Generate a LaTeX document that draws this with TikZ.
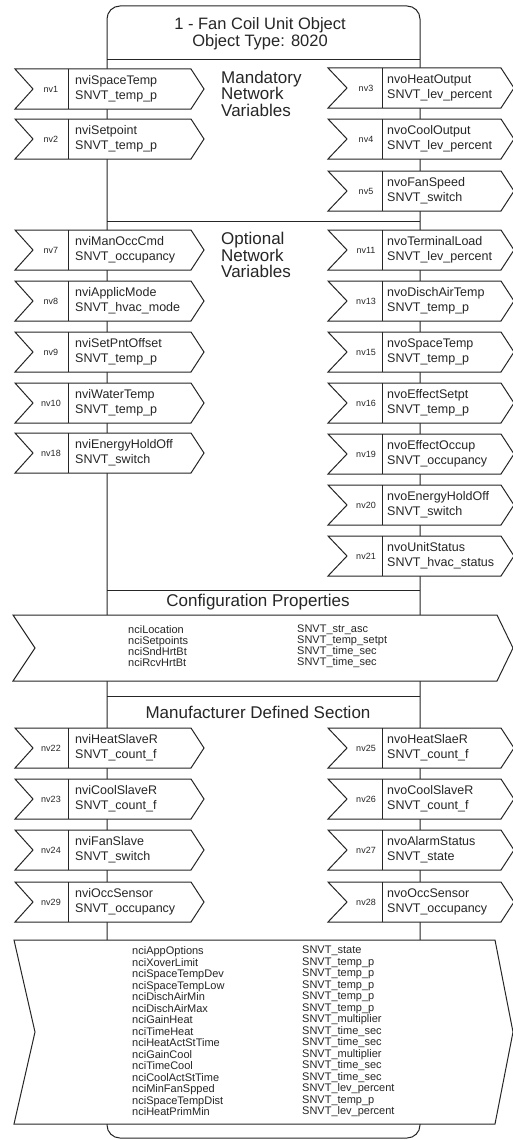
\documentclass[tikz,border=0pt]{standalone}
\usepackage{fontspec}
\setmainfont{Liberation Sans}
\newcommand\leftnv[5]{%
  \draw[arrowshape] (15,#2) -- (191,#2) -- (204,#2+20) -- (191,#2+40) -- (15,#2+40) -- (33,#2+20) -- cycle;
  \draw[divline] (68,#2) -- (68,#2+40);
  \node[nvlab] (#1-id) at (51,#2+20) {#3};
  \node[nvtext] (#1) at (75,#2+20) {#4\\#5};
}
\newcommand\rightnv[5]{%
  \draw[arrowshape] (328,#2) -- (501,#2) -- (514,#2+20) -- (501,#2+40) -- (328,#2+40) -- (347,#2+20) -- cycle;
  \draw[divline] (382,#2) -- (382,#2+40);
  \node[nvlab] (#1-id) at (366,#2+20) {#3};
  \node[nvtext] (#1) at (387,#2+20) {#4\\#5};
}
\begin{document}
\begin{tikzpicture}[x=1pt,y=-1pt,
  outline/.style={draw=black!85, line width=1pt},
  arrowshape/.style={outline, fill=white, line join=miter},
  divline/.style={draw=black!85, line width=1pt},
  nvlab/.style={font=\fontsize{9}{10}\selectfont, inner sep=0pt, text=black!85},
  nvtext/.style={font=\fontsize{12.5}{15}\selectfont, align=left, anchor=west, inner sep=0pt, text=black!85},
  title/.style={font=\fontsize{16.5}{17}\selectfont, align=center, inner sep=0pt, text=black!85},
  section/.style={font=\fontsize{17}{16.5}\selectfont, align=left, inner sep=0pt, text=black!85},
  cplist/.style={font=\fontsize{11}{11}\selectfont, align=left, anchor=west, inner sep=0pt, text=black!85},
  cplistb/.style={font=\fontsize{11}{11.5}\selectfont, align=left, anchor=west, inner sep=0pt, text=black!85}
]
\useasboundingbox (0,0) rectangle (513,1140);
\fill[white] (0,0) rectangle (513,1140);
% outer object box
\draw[outline, rounded corners=13pt] (263,1138) -- (107,1138) -- (107,6) -- (420,6) -- (420,1138) -- cycle;
\draw[outline] (107,60) -- (420,60);
\draw[outline] (107,221) -- (420,221);
\draw[outline] (107,590) -- (420,590);
\draw[outline] (107,696) -- (420,696);
\node[title] (head) at (260,33.5) {1 - Fan Coil Unit Object\\Object Type: 8020};
% section labels
\node[section, anchor=west] (mand) at (221,93.5) {Mandatory\\Network\\Variables};
\node[section, anchor=west] (opt) at (221,255) {Optional\\Network\\Variables};
\node[section] (cfg) at (258,602.5) {Configuration Properties};
\node[section] (mfr) at (258,712) {Manufacturer Defined Section};
% mandatory
\leftnv{nv1}{69}{nv1}{nviSpaceTemp}{SNVT\_temp\_p}
\leftnv{nv2}{119}{nv2}{nviSetpoint}{SNVT\_temp\_p}
\rightnv{nv3}{68}{nv3}{nvoHeatOutput}{SNVT\_lev\_percent}
\rightnv{nv4}{119}{nv4}{nvoCoolOutput}{SNVT\_lev\_percent}
\rightnv{nv5}{171}{nv5}{nvoFanSpeed}{SNVT\_switch}
% optional
\leftnv{nv7}{230}{nv7}{nviManOccCmd}{SNVT\_occupancy}
\leftnv{nv8}{281}{nv8}{nviApplicMode}{SNVT\_hvac\_mode}
\leftnv{nv9}{332}{nv9}{nviSetPntOffset}{SNVT\_temp\_p}
\leftnv{nv10}{383}{nv10}{nviWaterTemp}{SNVT\_temp\_p}
\leftnv{nv18}{433}{nv18}{nviEnergyHoldOff}{SNVT\_switch}
\rightnv{nv11}{230}{nv11}{nvoTerminalLoad}{SNVT\_lev\_percent}
\rightnv{nv13}{281}{nv13}{nvoDischAirTemp}{SNVT\_temp\_p}
\rightnv{nv15}{332}{nv15}{nvoSpaceTemp}{SNVT\_temp\_p}
\rightnv{nv16}{383}{nv16}{nvoEffectSetpt}{SNVT\_temp\_p}
\rightnv{nv19}{434}{nv19}{nvoEffectOccup}{SNVT\_occupancy}
\rightnv{nv20}{485}{nv20}{nvoEnergyHoldOff}{SNVT\_switch}
\rightnv{nv21}{536}{nv21}{nvoUnitStatus}{SNVT\_hvac\_status}
% configuration properties
\draw[arrowshape] (13,615) -- (497,615) -- (513,648) -- (497,681) -- (13,681) -- (35,648) -- cycle;
\node[cplist] (cpa) at (128,646.5) {nciLocation\\nciSetpoints\\nciSndHrtBt\\nciRcvHrtBt};
\node[cplist] (cpb) at (297,646.5) {SNVT\_str\_asc\\SNVT\_temp\_setpt\\SNVT\_time\_sec\\SNVT\_time\_sec};
% manufacturer defined
\leftnv{nv22}{728}{nv22}{nviHeatSlaveR}{SNVT\_count\_f}
\leftnv{nv23}{779}{nv23}{nviCoolSlaveR}{SNVT\_count\_f}
\leftnv{nv24}{830}{nv24}{nviFanSlave}{SNVT\_switch}
\leftnv{nv29}{882}{nv29}{nviOccSensor}{SNVT\_occupancy}
\rightnv{nv25}{728}{nv25}{nvoHeatSlaeR}{SNVT\_count\_f}
\rightnv{nv26}{779}{nv26}{nvoCoolSlaveR}{SNVT\_count\_f}
\rightnv{nv27}{830}{nv27}{nvoAlarmStatus}{SNVT\_state}
\rightnv{nv28}{882}{nv28}{nvoOccSensor}{SNVT\_occupancy}
\draw[arrowshape] (14,940) -- (495,940) -- (513,1032) -- (495,1124) -- (14,1124) -- (35,1032) -- cycle;
\node[cplistb] (mpa) at (132,1031.5) {nciAppOptions\\nciXoverLimit\\nciSpaceTempDev\\nciSpaceTempLow\\nciDischAirMin\\nciDischAirMax\\nciGainHeat\\nciTimeHeat\\nciHeatActStTime\\nciGainCool\\nciTimeCool\\nciCoolActStTime\\nciMinFanSpped\\nciSpaceTempDist\\nciHeatPrimMin};
\node[cplistb] (mpb) at (302,1031.5) {SNVT\_state\\SNVT\_temp\_p\\SNVT\_temp\_p\\SNVT\_temp\_p\\SNVT\_temp\_p\\SNVT\_temp\_p\\SNVT\_multiplier\\SNVT\_time\_sec\\SNVT\_time\_sec\\SNVT\_multiplier\\SNVT\_time\_sec\\SNVT\_time\_sec\\SNVT\_lev\_percent\\SNVT\_temp\_p\\SNVT\_lev\_percent};
\end{tikzpicture}
\end{document}
